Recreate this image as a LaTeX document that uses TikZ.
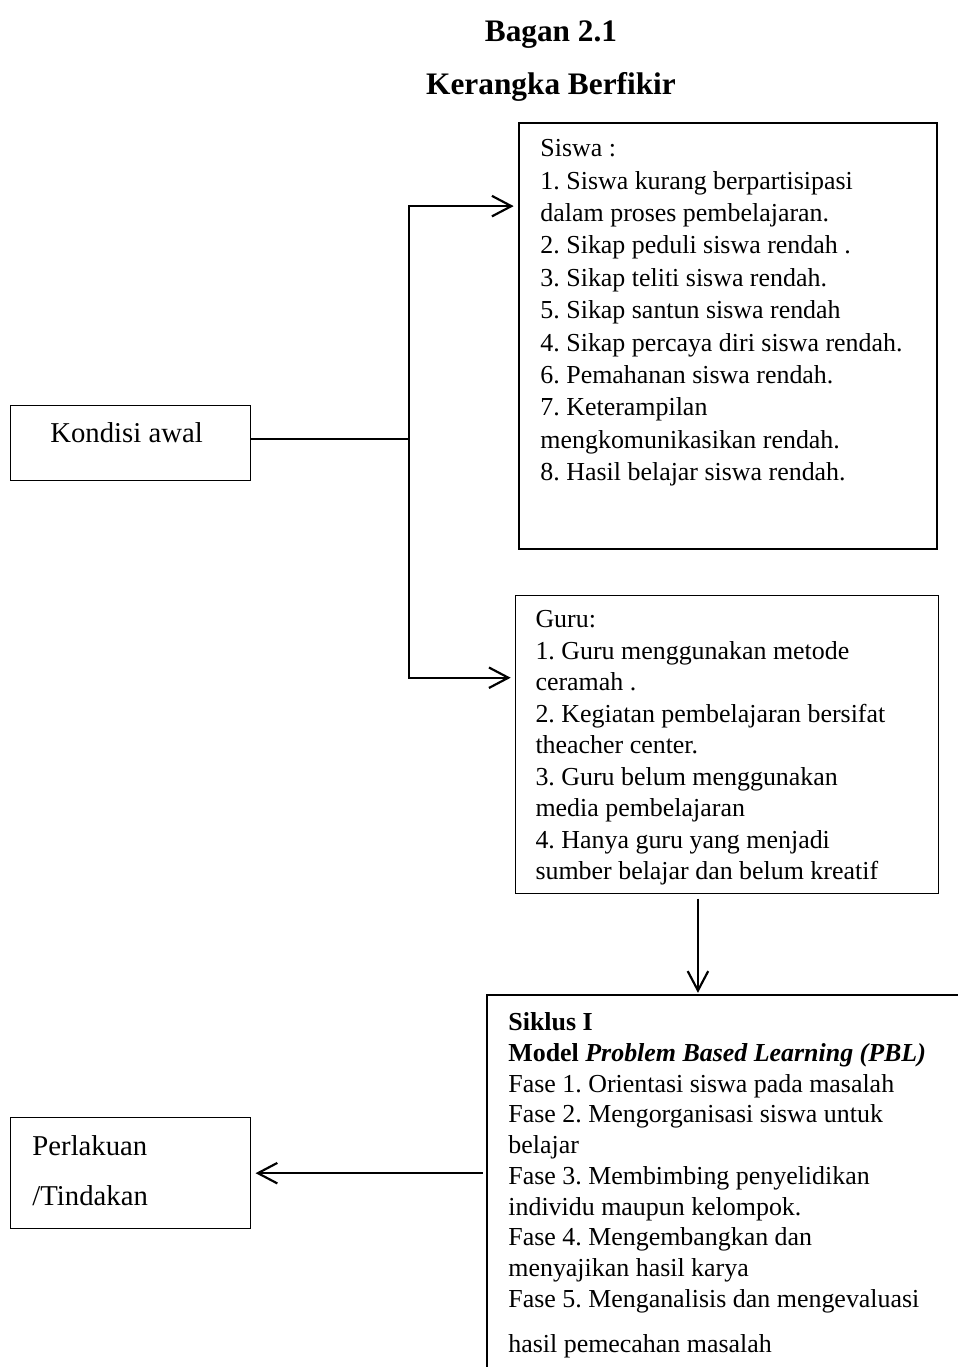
\documentclass[tikz,border=0pt]{standalone}
\usepackage{fontspec}
\setmainfont{Liberation Serif}
\usetikzlibrary{arrows.meta,positioning}
\frenchspacing

\begin{document}
\begin{tikzpicture}[
  x=0.463pt, y=-0.463pt,
  box/.style={draw, line width=0.6pt, inner sep=0pt},
  txt/.style={align=left, inner sep=0pt, font=\fontsize{12}{15}\selectfont},
  title/.style={inner sep=0pt, font=\fontsize{14.5}{17}\selectfont\bfseries},
  arrow/.style={-{Straight Barb[length=9pt,width=9.5pt]}, line width=1pt},
  link/.style={line width=1pt}
]
\coordinate (nw) at (0,0);
\coordinate (se) at (958,1367);
\useasboundingbox (nw) rectangle (se);

\node[title, anchor=base] (bagan) at (551,42) {Bagan 2.1};
\node[title, anchor=base] (judul) at (551,95) {Kerangka Berfikir};

% kondisi awal
\node[box, anchor=north west, minimum width=111.1pt, minimum height=34.7pt] (kondisi) at (10,405) {};
\node[txt, font=\fontsize{13.3}{16}\selectfont, below right=8.1pt and 18.5pt of kondisi.north west] (kondisitxt) {Kondisi awal};

% siswa
\node[box, line width=1.1pt, anchor=north west, minimum width=193.5pt, minimum height=197.2pt] (siswa) at (518,122) {};
\node[txt, below right=7.9pt and 10.2pt of siswa.north west] (siswatxt) {Siswa :\\1. Siswa kurang berpartisipasi\\dalam proses pembelajaran.\\2. Sikap peduli siswa rendah .\\3. Sikap teliti siswa rendah.\\5. Sikap santun siswa rendah\\4. Sikap percaya diri siswa rendah.\\6. Pemahanan siswa rendah.\\7. Keterampilan\\mengkomunikasikan rendah.\\8. Hasil belajar siswa rendah.};

% guru
\node[box, anchor=north west, minimum width=195.8pt, minimum height=138pt] (guru) at (515,595) {};
\node[txt, font=\fontsize{12}{14.6}\selectfont, below right=6.9pt and 9.3pt of guru.north west] (gurutxt) {Guru:\\1. Guru menggunakan metode\\ceramah .\\2. Kegiatan pembelajaran bersifat\\theacher center.\\3. Guru belum menggunakan\\media pembelajaran\\4. Hanya guru yang menjadi\\sumber belajar dan belum kreatif};

% siklus I
\coordinate (siklus) at (487,995);
\draw[line width=0.8pt] (se |- siklus) -- (siklus) -- (siklus |- se);
\node[txt, font=\fontsize{12}{14.25}\selectfont, below right=7.9pt and 9.7pt of siklus] (siklustxt) {\textbf{Siklus I}\\\textbf{Model \textit{Problem Based Learning (PBL)}}\\Fase 1. Orientasi siswa pada masalah\\Fase 2. Mengorganisasi siswa untuk\\belajar\\Fase 3. Membimbing penyelidikan\\individu maupun kelompok.\\Fase 4. Mengembangkan dan\\menyajikan hasil karya\\Fase 5. Menganalisis dan mengevaluasi\\[6.5pt]hasil pemecahan masalah};

% perlakuan
\node[box, anchor=north west, minimum width=111.1pt, minimum height=51.4pt] (perlakuan) at (10,1117) {};
\node[txt, font=\fontsize{13.3}{23.2}\selectfont, below right=8.3pt and 10.2pt of perlakuan.north west] (perlakuantxt) {Perlakuan\\/Tindakan};

% connectors
\coordinate (cabang) at ([xshift=73.2pt, yshift=2pt]kondisi.east);
\draw[link] ([yshift=2pt]kondisi.east) -- (cabang);
\coordinate (kesiswa) at ([yshift=60.2pt]siswa.west);
\coordinate (keguru) at ([yshift=31pt]guru.west);
\draw[arrow, shorten >=2pt] (cabang) |- (kesiswa);
\draw[arrow, shorten >=2pt] (cabang) |- (keguru);
\coordinate (gurubawah) at ([xshift=84.7pt, yshift=-2pt]guru.south west);
\draw[arrow, shorten >=1pt] (gurubawah) -- (gurubawah |- siklus);
\path (siklus |- perlakuan.east) coordinate (siklusbagian);
\draw[arrow, shorten <=2pt, shorten >=2pt] (siklusbagian) -- (perlakuan.east);
\end{tikzpicture}
\end{document}
